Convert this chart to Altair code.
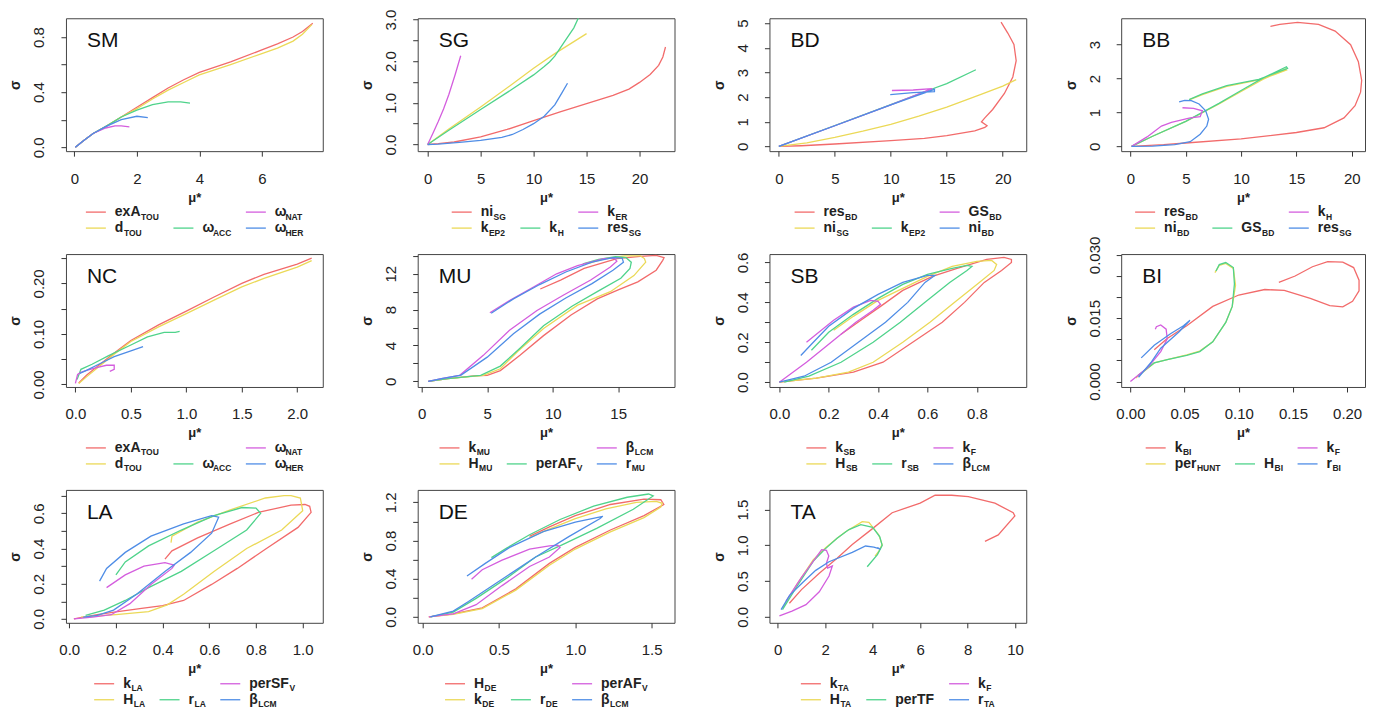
import json
import altair as alt
import pandas as pd

FONT = "Liberation Sans"
COLORS = ["#F26B6B", "#EBD957", "#4FD38B", "#D45EDE", "#4F8DE6"]
LC = "#222222"
TC = "#333333"

# ---------------- data ----------------
SM_NAMES = [("exA", "TOU"), ("d", "TOU"), ("ω", "ACC"), ("ω", "NAT"), ("ω", "HER")]
SM_X = [[0.03, 0.3, 0.6, 1.0, 1.5, 2.0, 2.5, 3.0, 3.5, 4.0, 5.0, 6.0, 6.5, 7.0, 7.3, 7.63],
        [0.03, 0.3, 0.6, 1.0, 1.5, 2.0, 2.5, 3.0, 3.5, 4.0, 5.0, 6.0, 6.5, 7.0, 7.3, 7.6],
        [0.03, 0.3, 0.6, 1.0, 1.5, 2.0, 2.5, 3.0, 3.4, 3.7],
        [0.03, 0.3, 0.6, 1.0, 1.3, 1.5, 1.76],
        [0.03, 0.3, 0.6, 1.0, 1.5, 2.0, 2.35]]
SM_Y = [[0.0, 0.05, 0.1, 0.15, 0.22, 0.29, 0.36, 0.43, 0.49, 0.543, 0.62, 0.706, 0.75, 0.8, 0.84, 0.9],
        [0.0, 0.05, 0.1, 0.15, 0.22, 0.28, 0.35, 0.415, 0.47, 0.525, 0.6, 0.68, 0.72, 0.77, 0.82, 0.89],
        [0.0, 0.05, 0.1, 0.15, 0.22, 0.27, 0.31, 0.33, 0.33, 0.32],
        [0.0, 0.05, 0.1, 0.14, 0.155, 0.155, 0.148],
        [0.0, 0.05, 0.1, 0.15, 0.2, 0.225, 0.215]]

SG_NAMES = [("ni", "SG"), ("k", "EP2"), ("k", "H"), ("k", "ER"), ("res", "SG")]
SG_X = [[0, 1, 2.5, 5, 7.5, 10, 12.5, 15, 17.5, 19, 20, 21, 21.8, 22.2, 22.45],
        [0, 2, 5, 8, 10, 12, 15],
        [0, 2, 5, 8, 10, 11, 11.5, 12, 13, 13.8, 14.25],
        [0, 0.5, 1, 1.5, 2, 2.6, 3.12],
        [0, 1, 3, 5, 7, 8, 9, 10, 11, 12, 12.7, 13.2]]
SG_Y = [[0, 0.02, 0.06, 0.18, 0.36, 0.57, 0.78, 0.98, 1.18, 1.33, 1.49, 1.68, 1.9, 2.1, 2.34],
        [0, 0.37, 0.9, 1.45, 1.83, 2.18, 2.66],
        [0, 0.34, 0.84, 1.33, 1.67, 1.87, 1.98, 2.12, 2.5, 2.8, 3.05],
        [0, 0.27, 0.55, 0.85, 1.2, 1.68, 2.13],
        [0, 0.01, 0.05, 0.1, 0.17, 0.24, 0.36, 0.5, 0.68, 0.95, 1.25, 1.47]]

BD_NAMES = [("res", "BD"), ("ni", "SG"), ("k", "EP2"), ("GS", "BD"), ("ni", "BD")]
BD_X = [[0.1, 2, 5, 10, 13, 15, 17.5, 18.4, 18.6, 18.1, 18.4, 19.1, 20.15, 20.9, 21.2, 21.0, 20.45, 19.85],
        [0, 2.5, 5, 7.5, 10, 12.5, 15, 18, 20, 21.2],
        [0, 5, 10, 13.5, 15, 17.6],
        [0, 5, 10, 13.7, 12, 10.1],
        [0, 5, 10, 13.9, 13.9, 12, 9.95]]
BD_Y = [[0.0, 0.03, 0.1, 0.24, 0.33, 0.44, 0.63, 0.77, 0.84, 1.0, 1.16, 1.5, 2.15, 2.82, 3.48, 4.14, 4.6, 5.04],
        [0, 0.15, 0.37, 0.62, 0.9, 1.23, 1.6, 2.1, 2.45, 2.71],
        [0, 0.85, 1.7, 2.3, 2.55, 3.11],
        [0, 0.84, 1.69, 2.35, 2.29, 2.27],
        [0, 0.84, 1.69, 2.32, 2.22, 2.18, 2.1]]

BB_NAMES = [("res", "BD"), ("ni", "BD"), ("GS", "BD"), ("k", "H"), ("res", "SG")]
BB_X = [[0.1, 3, 5, 10, 15, 17.5, 19.3, 20.3, 20.8, 20.9, 20.6, 19.9, 18.5, 17, 15.1, 13.5, 12.65],
        [0.1, 2, 5, 8, 10, 12, 14.0, 14.1, 13, 11.6, 8.7, 6.5, 5.3],
        [0.1, 2, 5, 8, 10, 12, 14.1, 14.2, 13, 11.6, 8.7, 6.5, 5.3],
        [0.1, 1.5, 2.8, 3.7, 5.4, 6.3, 6.5, 5.7, 4.7],
        [0.1, 2, 4, 5.4, 6.3, 6.9, 7.06, 6.8, 6.2, 5.5, 4.9, 4.4]]
BB_Y = [[0, 0.05, 0.1, 0.22, 0.41, 0.55, 0.84, 1.2, 1.6, 1.95, 2.5, 3.0, 3.4, 3.6, 3.66, 3.6, 3.54],
        [0, 0.3, 0.74, 1.25, 1.62, 1.98, 2.28, 2.25, 2.12, 1.96, 1.77, 1.53, 1.37],
        [0, 0.3, 0.74, 1.27, 1.65, 2.02, 2.35, 2.3, 2.15, 1.98, 1.79, 1.55, 1.38],
        [0, 0.28, 0.6, 0.71, 0.84, 0.88, 1.05, 1.12, 1.14],
        [0, 0.01, 0.05, 0.14, 0.36, 0.6, 0.8, 1.05, 1.25, 1.35, 1.36, 1.31]]

NC_NAMES = SM_NAMES
NC_X = [[0.03, 0.1, 0.2, 0.35, 0.5, 0.75, 1.0, 1.25, 1.5, 1.7, 2.0, 2.13],
        [0.03, 0.1, 0.2, 0.35, 0.5, 0.75, 1.0, 1.25, 1.5, 1.7, 2.0, 2.13],
        [0.015, 0.05, 0.15, 0.3, 0.5, 0.65, 0.8, 0.9, 0.94],
        [0.0, 0.02, 0.05, 0.1, 0.2, 0.28, 0.35, 0.35, 0.31],
        [0.04, 0.1, 0.22, 0.35, 0.52, 0.61]]
NC_Y = [[0.003, 0.018, 0.036, 0.062, 0.087, 0.118, 0.145, 0.173, 0.2, 0.218, 0.238, 0.25],
        [0.002, 0.015, 0.033, 0.06, 0.085, 0.114, 0.14, 0.167, 0.193, 0.21, 0.232, 0.245],
        [0.01, 0.03, 0.04, 0.057, 0.078, 0.094, 0.103, 0.103, 0.105],
        [0.002, 0.02, 0.024, 0.028, 0.034, 0.038, 0.038, 0.03, 0.026],
        [0.022, 0.028, 0.041, 0.055, 0.068, 0.075]]

MU_NAMES = [("k", "MU"), ("H", "MU"), ("perAF", "V"), ("β", "LCM"), ("r", "MU")]
MU_X = [[0.5, 2, 4, 5, 6, 7.5, 9.3, 11.4, 13.4, 15, 16.5, 17.9, 18.4, 18.5, 17.9, 16.7, 14.9, 12.4, 10.6, 9.05],
        [0.5, 2, 4.7, 6, 7.3, 9.3, 11.9, 14.4, 16.2, 17.1, 17.0, 16.7, 15.5, 14, 12.8],
        [0.5, 2, 4.5, 6, 7.5, 9.3, 11.5, 13.5, 15.2, 15.9, 16.0, 15.6, 14.8, 13.5, 12.3],
        [0.5, 1.5, 2.9, 4.7, 6.7, 8.8, 10.8, 12.9, 14.4, 14.9, 14.7, 13.9, 11.9, 10.3, 8.5, 6.7, 5.2],
        [0.5, 1.5, 3, 5, 7, 9, 11, 13, 14.6, 15.4, 15.3, 14.6, 13, 11, 9, 7, 5.3]]
MU_Y = [[0, 0.3, 0.6, 0.67, 1.2, 2.9, 5.1, 7.4, 9.2, 10.2, 11.1, 12.4, 13.5, 13.8, 14.05, 13.95, 13.7, 12.6, 11.3, 10.3],
        [0, 0.3, 0.67, 1.4, 3.3, 5.9, 8.5, 10.0, 11.8, 13.3, 13.7, 14.0, 14.0, 13.7, 13.2],
        [0, 0.3, 0.67, 1.7, 3.7, 6.2, 8.4, 10.1, 11.5, 12.6, 13.3, 13.8, 13.9, 13.6, 13.1],
        [0, 0.3, 0.67, 2.9, 5.7, 7.9, 9.6, 11.3, 12.75, 13.4, 13.75, 13.7, 12.9, 12.0, 10.5, 9.0, 7.66],
        [0, 0.3, 0.7, 2.7, 5.3, 7.5, 9.3, 10.9, 12.4, 13.3, 13.75, 13.8, 13.3, 12.2, 10.8, 9.2, 7.6]]

SB_NAMES = [("k", "SB"), ("H", "SB"), ("r", "SB"), ("k", "F"), ("β", "LCM")]
SB_X = [[0.0, 0.15, 0.3, 0.42, 0.54, 0.66, 0.75, 0.83, 0.9, 0.94, 0.94, 0.91, 0.84, 0.72, 0.62, 0.5, 0.41, 0.33, 0.25],
        [0.0, 0.15, 0.28, 0.38, 0.5, 0.61, 0.71, 0.81, 0.87, 0.88, 0.86, 0.8, 0.7, 0.6, 0.5, 0.4, 0.3, 0.22],
        [0.02, 0.12, 0.25, 0.38, 0.49, 0.59, 0.69, 0.76, 0.78, 0.76, 0.7, 0.6, 0.5, 0.4, 0.3, 0.2, 0.13],
        [0.0, 0.11, 0.21, 0.31, 0.38, 0.41, 0.4, 0.37, 0.3, 0.22, 0.14, 0.11],
        [0.0, 0.1, 0.21, 0.32, 0.43, 0.52, 0.59, 0.63, 0.6, 0.5, 0.4, 0.3, 0.2, 0.13, 0.087]]
SB_Y = [[0.0, 0.02, 0.05, 0.1, 0.2, 0.3, 0.4, 0.5, 0.56, 0.6, 0.615, 0.625, 0.615, 0.57, 0.53, 0.46, 0.38, 0.31, 0.24],
        [0.0, 0.02, 0.05, 0.1, 0.2, 0.3, 0.4, 0.5, 0.56, 0.59, 0.61, 0.605, 0.58, 0.53, 0.47, 0.41, 0.33, 0.26],
        [0.0, 0.03, 0.1, 0.2, 0.3, 0.4, 0.5, 0.56, 0.58, 0.585, 0.57, 0.54, 0.49, 0.42, 0.34, 0.25, 0.16],
        [0.0, 0.1, 0.2, 0.3, 0.36, 0.39, 0.405, 0.41, 0.376, 0.31, 0.23, 0.2],
        [0.0, 0.03, 0.1, 0.2, 0.3, 0.4, 0.5, 0.535, 0.535, 0.5, 0.44, 0.37, 0.28, 0.19, 0.134]]

BI_NAMES = [("k", "BI"), ("per", "HUNT"), ("H", "BI"), ("k", "F"), ("r", "BI")]
BI_X = [[0.022, 0.034, 0.052, 0.076, 0.1, 0.124, 0.142, 0.166, 0.184, 0.196, 0.205, 0.211, 0.211, 0.206, 0.196, 0.182, 0.168, 0.152, 0.137],
        [0.005, 0.022, 0.034, 0.052, 0.064, 0.076, 0.088, 0.094, 0.097, 0.095, 0.088, 0.082, 0.078],
        [0.007, 0.022, 0.034, 0.052, 0.064, 0.076, 0.088, 0.094, 0.096, 0.095, 0.088, 0.082, 0.079],
        [0.0, 0.016, 0.028, 0.034, 0.033, 0.028, 0.024, 0.023],
        [0.01, 0.022, 0.037, 0.049, 0.055, 0.045, 0.028, 0.019, 0.0075]]
BI_Y = [[0.0075, 0.0102, 0.0132, 0.0178, 0.0205, 0.0218, 0.0216, 0.0197, 0.018, 0.0177, 0.019, 0.0215, 0.024, 0.027, 0.0283, 0.0284, 0.0272, 0.0250, 0.0235],
        [0.0008, 0.0044, 0.0052, 0.0063, 0.0072, 0.0094, 0.014, 0.0178, 0.0228, 0.0268, 0.028, 0.0275, 0.0258],
        [0.0014, 0.0044, 0.0052, 0.0062, 0.0071, 0.0094, 0.014, 0.0178, 0.0231, 0.027, 0.0282, 0.0277, 0.0262],
        [0.0, 0.0033, 0.0071, 0.0101, 0.0124, 0.0134, 0.013, 0.0124],
        [0.0056, 0.0086, 0.0113, 0.0132, 0.0145, 0.0118, 0.0079, 0.0045, 0.001]]

LA_NAMES = [("k", "LA"), ("H", "LA"), ("r", "LA"), ("perSF", "V"), ("β", "LCM")]
LA_X = [[0.02, 0.12, 0.2, 0.31, 0.4, 0.49, 0.61, 0.72, 0.84, 0.98, 1.036, 1.03, 1.01, 0.95, 0.81, 0.69, 0.55, 0.44, 0.41],
        [0.05, 0.2, 0.34, 0.42, 0.49, 0.62, 0.76, 0.91, 1.0, 0.99, 0.95, 0.92, 0.84, 0.69, 0.55, 0.44, 0.436],
        [0.07, 0.15, 0.24, 0.34, 0.48, 0.62, 0.76, 0.82, 0.8, 0.74, 0.62, 0.48, 0.34, 0.24, 0.2],
        [0.02, 0.1, 0.18, 0.26, 0.35, 0.44, 0.45, 0.41, 0.32, 0.24, 0.16],
        [0.06, 0.12, 0.19, 0.29, 0.41, 0.52, 0.61, 0.64, 0.61, 0.49, 0.35, 0.24, 0.16, 0.13]]
LA_Y = [[0.0, 0.024, 0.04, 0.06, 0.075, 0.105, 0.196, 0.287, 0.396, 0.52, 0.605, 0.64, 0.65, 0.647, 0.605, 0.54, 0.46, 0.387, 0.34],
        [0.01, 0.025, 0.042, 0.08, 0.14, 0.27, 0.4, 0.505, 0.615, 0.687, 0.7, 0.7, 0.687, 0.62, 0.55, 0.47, 0.433],
        [0.02, 0.05, 0.105, 0.178, 0.27, 0.387, 0.505, 0.6, 0.63, 0.633, 0.587, 0.505, 0.415, 0.324, 0.25],
        [0.0, 0.01, 0.024, 0.087, 0.196, 0.287, 0.305, 0.32, 0.3, 0.25, 0.178],
        [0.01, 0.02, 0.05, 0.142, 0.27, 0.378, 0.487, 0.578, 0.587, 0.54, 0.47, 0.378, 0.287, 0.215]]

DE_NAMES = [("H", "DE"), ("k", "DE"), ("r", "DE"), ("perAF", "V"), ("β", "LCM")]
DE_X = [[0.04, 0.2, 0.39, 0.61, 0.83, 1.0, 1.23, 1.45, 1.58, 1.56, 1.45, 1.23, 1.0, 0.83, 0.7],
        [0.04, 0.2, 0.39, 0.61, 0.83, 1.0, 1.23, 1.45, 1.56, 1.57, 1.53, 1.4, 1.2, 1.0, 0.8, 0.7],
        [0.05, 0.2, 0.35, 0.57, 0.74, 0.92, 1.14, 1.38, 1.51, 1.48, 1.34, 1.12, 0.9, 0.7, 0.55, 0.45],
        [0.04, 0.2, 0.35, 0.52, 0.7, 0.83, 0.9, 0.885, 0.83, 0.7, 0.52, 0.39, 0.32],
        [0.05, 0.2, 0.3, 0.52, 0.74, 0.96, 1.16, 1.18, 1.0, 0.79, 0.57, 0.41, 0.29]]
DE_Y = [[0.0, 0.03, 0.093, 0.293, 0.56, 0.727, 0.91, 1.06, 1.177, 1.227, 1.233, 1.177, 1.06, 0.943, 0.843],
        [0.0, 0.025, 0.085, 0.28, 0.54, 0.71, 0.89, 1.04, 1.15, 1.19, 1.21, 1.2, 1.13, 1.03, 0.9, 0.83],
        [0.0, 0.05, 0.193, 0.427, 0.627, 0.76, 0.927, 1.127, 1.267, 1.287, 1.253, 1.16, 1.02, 0.86, 0.72, 0.62],
        [0.0, 0.03, 0.127, 0.327, 0.527, 0.627, 0.727, 0.75, 0.743, 0.71, 0.593, 0.493, 0.393],
        [0.0, 0.06, 0.16, 0.393, 0.627, 0.843, 1.027, 1.053, 0.993, 0.893, 0.727, 0.56, 0.427]]

TA_NAMES = [("k", "TA"), ("H", "TA"), ("perTF", ""), ("k", "F"), ("r", "TA")]
TA_X = [[0.49, 1.0, 1.75, 2.5, 3.14, 3.98, 4.82, 6.0, 6.63, 7.33, 8.03, 9.15, 9.92, 9.99, 9.29, 8.73],
        [0.2, 0.8, 1.5, 2.03, 2.5, 2.86, 3.56, 3.84, 4.26, 4.4, 4.26, 4.1],
        [0.2, 0.8, 1.5, 2.0, 2.5, 3.0, 3.5, 4.0, 4.3, 4.4, 4.2, 3.77],
        [0.07, 0.6, 1.19, 1.75, 2.16, 2.3, 2.1, 2.05, 2.15, 2.05, 1.85, 1.5, 1.0, 0.6, 0.35],
        [0.14, 0.5, 1.05, 1.6, 2.16, 3.14, 3.7, 4.05, 4.33, 4.2]]
TA_Y = [[0.19, 0.38, 0.61, 0.82, 1.01, 1.23, 1.456, 1.59, 1.7, 1.7, 1.68, 1.59, 1.456, 1.41, 1.145, 1.056],
        [0.12, 0.45, 0.8, 0.97, 1.1, 1.19, 1.33, 1.32, 1.145, 1.01, 0.92, 0.85],
        [0.1, 0.42, 0.78, 0.95, 1.1, 1.22, 1.29, 1.25, 1.12, 1.0, 0.87, 0.7],
        [0.013, 0.08, 0.17, 0.35, 0.57, 0.71, 0.68, 0.75, 0.85, 0.93, 0.94, 0.78, 0.55, 0.35, 0.22],
        [0.1, 0.3, 0.48, 0.65, 0.77, 0.9, 0.99, 0.976, 0.945, 0.97]]

# axis settings: domain, tick values, labelled ticks, number format
PANELS = {
    "SM": dict(n=SM_NAMES, X=SM_X, Y=SM_Y, xd=[-0.27, 7.95], yd=[-0.028, 0.936],
               xt=[0, 2, 4, 6], xf=".0f", yt=[0, 0.2, 0.4, 0.6, 0.8], ys=[0, 0.4, 0.8], yf=".1f"),
    "SG": dict(n=SG_NAMES, X=SG_X, Y=SG_Y, xd=[-0.94, 23.3], yd=[-0.16, 3.03],
               xt=[0, 5, 10, 15, 20], xf=".0f", yt=[0, 0.5, 1.0, 1.5, 2.0, 2.5, 3.0], ys=[0, 1.0, 2.0, 3.0], yf=".1f"),
    "BD": dict(n=BD_NAMES, X=BD_X, Y=BD_Y, xd=[-0.84, 22.1], yd=[-0.19, 5.2],
               xt=[0, 5, 10, 15, 20], xf=".0f", yt=[0, 1, 2, 3, 4, 5], ys=[0, 1, 2, 3, 4, 5], yf=".0f"),
    "BB": dict(n=BB_NAMES, X=BB_X, Y=BB_Y, xd=[-0.84, 21.2], yd=[-0.14, 3.78],
               xt=[0, 5, 10, 15, 20], xf=".0f", yt=[0, 1, 2, 3], ys=[0, 1, 2, 3], yf=".0f"),
    "NC": dict(n=NC_NAMES, X=NC_X, Y=NC_Y, xd=[-0.085, 2.23], yd=[-0.005, 0.258],
               xt=[0, 0.5, 1.0, 1.5, 2.0], xf=".1f", yt=[0, 0.05, 0.1, 0.15, 0.2, 0.25], ys=[0, 0.1, 0.2], yf=".2f"),
    "MU": dict(n=MU_NAMES, X=MU_X, Y=MU_Y, xd=[-0.31, 19.3], yd=[-0.63, 14.2],
               xt=[0, 5, 10, 15], xf=".0f", yt=[0, 2, 4, 6, 8, 10, 12, 14], ys=[0, 4, 8, 12], yf=".0f"),
    "SB": dict(n=SB_NAMES, X=SB_X, Y=SB_Y, xd=[-0.04, 1.0], yd=[-0.024, 0.642],
               xt=[0, 0.2, 0.4, 0.6, 0.8], xf=".1f", yt=[0, 0.1, 0.2, 0.3, 0.4, 0.5, 0.6], ys=[0, 0.2, 0.4, 0.6], yf=".1f"),
    "BI": dict(n=BI_NAMES, X=BI_X, Y=BI_Y, xd=[-0.0085, 0.2165], yd=[-0.0013, 0.0302],
               xt=[0, 0.05, 0.1, 0.15, 0.2], xf=".2f", yt=[0, 0.005, 0.01, 0.015, 0.02, 0.025, 0.03], ys=[0, 0.015, 0.03], yf=".3f"),
    "LA": dict(n=LA_NAMES, X=LA_X, Y=LA_Y, xd=[-0.014, 1.086], yd=[-0.022, 0.733],
               xt=[0, 0.2, 0.4, 0.6, 0.8, 1.0], xf=".1f", yt=[0, 0.1, 0.2, 0.3, 0.4, 0.5, 0.6, 0.7], ys=[0, 0.2, 0.4, 0.6], yf=".1f"),
    "DE": dict(n=DE_NAMES, X=DE_X, Y=DE_Y, xd=[-0.033, 1.65], yd=[-0.063, 1.33],
               xt=[0, 0.5, 1.0, 1.5], xf=".1f", yt=[0, 0.2, 0.4, 0.6, 0.8, 1.0, 1.2], ys=[0, 0.4, 0.8, 1.2], yf=".1f"),
    "TA": dict(n=TA_NAMES, X=TA_X, Y=TA_Y, xd=[-0.35, 10.47], yd=[-0.084, 1.775],
               xt=[0, 2, 4, 6, 8, 10], xf=".0f", yt=[0, 0.5, 1.0, 1.5], ys=[0, 0.5, 1.0, 1.5], yf=".1f"),
}

ORDER = ["SM", "SG", "BD", "BB", "NC", "MU", "SB", "BI", "LA", "DE", "TA"]
COL_W = [257, 257, 257, 244]
H = 133

# approximate Arial Bold advance widths (per 1000 em) for legend subscript placement
CW = {c: w for c, w in zip("abcdefghijklmnopqrstuvwxyz",
                           [556, 611, 556, 611, 556, 333, 611, 611, 278, 278, 556, 278, 889, 611, 611, 611, 611, 389, 556, 333, 611, 556, 778, 556, 556, 500])}
CW.update({c: w for c, w in zip("ABCDEFGHIJKLMNOPQRSTUVWXYZ",
                                [722, 722, 722, 722, 667, 611, 778, 722, 278, 556, 722, 611, 833, 722, 778, 667, 778, 722, 667, 611, 722, 667, 944, 667, 667, 611])})
CW.update({"ω": 720, "β": 610, "2": 556})


def tw(s, size):
    return sum(CW.get(ch, 600) for ch in s) * size / 1000.0


MAIN_FS = 14
SUB_FS = 8.5


def legend_frame(names, width, height):
    colof = [0, 0, 1, 2, 2]
    rowof = [0, 1, 1, 0, 1]
    full = [tw(m, MAIN_FS) + tw(s, SUB_FS) for m, s in names]
    cw = []
    for c in range(3):
        cw.append(20 + 9 + max(full[i] for i in range(5) if colof[i] == c))
    gap = 15
    total = sum(cw) + 2 * gap
    start = (width - total) / 2
    xs = [start, start + cw[0] + gap, start + cw[0] + cw[1] + 2 * gap]
    rows = []
    for i, (m, s) in enumerate(names):
        x0 = xs[colof[i]]
        ly = height + (61 if rowof[i] == 0 else 77)
        rows.append(dict(lx=x0, lx2=x0 + 20, ly=ly, tx=x0 + 29,
                         sx=x0 + 29 + tw(m, MAIN_FS) + 0.5, sy=ly + 4.5,
                         main=m, sub=s, c=f"s{i}"))
    return pd.DataFrame(rows)


color_enc = alt.Color("c:N", scale=alt.Scale(domain=[f"s{i}" for i in range(5)], range=COLORS), legend=None)


def panel(name, width, height):
    p = PANELS[name]
    rows = []
    for si, (xs, ys) in enumerate(zip(p["X"], p["Y"])):
        for k, (xv, yv) in enumerate(zip(xs, ys)):
            rows.append({"x": xv, "y": yv, "c": f"s{si}", "k": k})
    df = pd.DataFrame(rows)

    xaxis = alt.Axis(values=p["xt"], labelExpr=f"format(datum.value, '{p['xf']}')",
                     title="μ*", grid=False, domain=False, tickSize=5, tickColor=TC,
                     labelFontSize=15, labelColor=LC, labelPadding=15, labelOverlap=False,
                     labelFlush=False, titleFontSize=13, titleFontWeight="bold", titlePadding=5,
                     titleColor=LC, labelFont=FONT, titleFont=FONT)
    yexpr = (f"indexof({json.dumps(p['ys'])}, datum.value) >= 0 ? "
             f"format(datum.value, '{p['yf']}') : ''")
    yaxis = alt.Axis(values=p["yt"], labelExpr=yexpr, title="σ", grid=False, domain=False,
                     tickSize=5, tickColor=TC, labelFontSize=15, labelColor=LC, labelAngle=-90,
                     labelPadding=14, labelOverlap=False, labelFlush=False, titleFontSize=14,
                     titleFontWeight="bold", titlePadding=9, titleColor=LC,
                     labelFont=FONT, titleFont=FONT)

    lines = alt.Chart(df).mark_line(strokeWidth=1.3, clip=True).encode(
        x=alt.X("x:Q", scale=alt.Scale(domain=p["xd"], nice=False, zero=False), axis=xaxis),
        y=alt.Y("y:Q", scale=alt.Scale(domain=p["yd"], nice=False, zero=False), axis=yaxis),
        color=color_enc,
        detail="c:N",
        order="k:Q",
    )
    title = alt.Chart(pd.DataFrame({"t": [name]})).mark_text(
        align="left", baseline="alphabetic", fontSize=21, font=FONT, color="#111111"
    ).encode(text="t:N", x=alt.value(21), y=alt.value(29))

    leg = legend_frame(p["n"], width, height)
    lxs = alt.Scale(domain=[0, width], nice=False, zero=False)
    lys = alt.Scale(domain=[0, height], nice=False, zero=False, reverse=True)
    sw = alt.Chart(leg).mark_rule(strokeWidth=1.3).encode(
        x=alt.X("lx:Q", scale=lxs, axis=None), x2="lx2:Q",
        y=alt.Y("ly:Q", scale=lys, axis=None), color=color_enc)
    tm = alt.Chart(leg).mark_text(align="left", baseline="middle", fontSize=MAIN_FS,
                                  fontWeight="bold", font=FONT, color=LC).encode(
        x=alt.X("tx:Q", scale=lxs, axis=None), y=alt.Y("ly:Q", scale=lys, axis=None), text="main:N")
    ts = alt.Chart(leg).mark_text(align="left", baseline="middle", fontSize=SUB_FS,
                                  fontWeight="bold", font=FONT, color=LC).encode(
        x=alt.X("sx:Q", scale=lxs, axis=None), y=alt.Y("sy:Q", scale=lys, axis=None), text="sub:N")
    legend = alt.layer(sw, tm, ts)

    return alt.layer(alt.layer(lines, title), legend).resolve_scale(
        x="independent", y="independent").properties(width=width, height=height)


panels = [panel(nm, COL_W[i % 4], H) for i, nm in enumerate(ORDER)]

chart = alt.concat(*panels, columns=4, spacing={"row": 103, "column": 95}, bounds="flush").properties(
    padding={"left": 0, "top": 0, "right": 0, "bottom": 0}
).configure(font=FONT).configure_view(stroke="#444444", strokeWidth=1)

chart.save("out.html", embed_options={"renderer": "svg", "actions": False})
